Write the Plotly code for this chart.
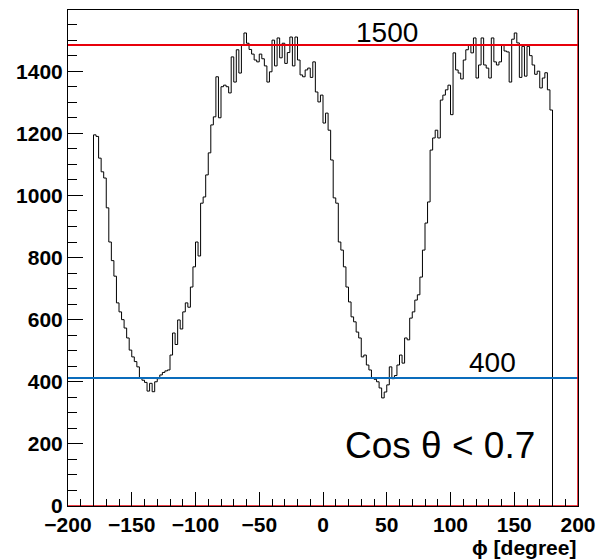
import plotly.graph_objects as go

# Histogram: 2-degree bins from -180 to 180
bin_start = -180
bin_width = 2
counts = [
    1195, 1190, 1120, 1076, 1056, 960, 850, 790, 740, 654,
    625, 600, 573, 541, 502, 480, 465, 448, 412, 405,
    398, 370, 395, 368, 400, 410, 422, 430, 435, 438,
    486, 557, 520, 599, 570, 625, 654, 640, 705, 770,
    850, 805, 975, 995, 1066, 1137, 1227, 1253, 1382, 1250,
    1350, 1355, 1350, 1330, 1446, 1365, 1469, 1394, 1484, 1523,
    1490, 1470, 1455, 1436, 1430, 1455, 1440, 1417, 1365, 1398,
    1500, 1417, 1507, 1443, 1490, 1425, 1460, 1510, 1417, 1510,
    1436, 1388, 1382, 1404, 1410, 1380, 1430, 1333, 1301, 1323,
    1233, 1265, 1210, 1114, 992, 975, 850, 824, 770, 705,
    657, 609, 593, 560, 541, 480, 486, 454, 438, 412,
    408, 400, 380, 348, 367, 390, 448, 410, 420, 454,
    486, 460, 541, 535, 605, 625, 663, 680, 737, 824,
    911, 979, 1146, 1185, 1210, 1185, 1307, 1323, 1340, 1355,
    1260, 1459, 1404, 1394, 1375, 1436, 1469, 1484, 1459, 1507,
    1378, 1420, 1507, 1420, 1410, 1378, 1507, 1430, 1420, 1430,
    1484, 1465, 1462, 1365, 1503, 1523, 1491, 1380, 1480, 1384,
    1480, 1450, 1420, 1390, 1400, 1346, 1378, 1395, 1340, 1275,
]

red_level = 1484
red_label = "1500"
blue_level = 412
blue_label = "400"
cut_label = "Cos θ < 0.7"
x_title = "ϕ [degree]"
x_ticks = [-200, -150, -100, -50, 0, 50, 100, 150, 200]
y_ticks = [0, 200, 400, 600, 800, 1000, 1200, 1400]

edges = [bin_start + i * bin_width for i in range(len(counts) + 1)]
xs = [edges[0]] + edges[:-1] + [edges[-1], edges[-1]]
ys = [0] + counts + [counts[-1], 0]

fig = go.Figure()
fig.add_trace(go.Scatter(x=xs, y=ys, mode="lines", line=dict(color="black", width=1, shape="hv"),
                         hoverinfo="skip", showlegend=False))
fig.add_trace(go.Scatter(x=[-200, 200], y=[red_level, red_level], mode="lines",
                         line=dict(color="#e8000b", width=2), showlegend=False))
fig.add_trace(go.Scatter(x=[-200, 200], y=[blue_level, blue_level], mode="lines",
                         line=dict(color="#0a6cbc", width=2), showlegend=False))
fig.add_trace(go.Scatter(x=[200, 200, -200], y=[1597, 0, 0], mode="lines",
                         line=dict(color="#e8000b", width=1.5), showlegend=False))

font_main = "Liberation Sans, Arial, sans-serif"
fig.add_annotation(x=50, y=1523, xref="x", yref="y", text=red_label, showarrow=False,
                   font=dict(family=font_main, size=28, color="black"))
fig.add_annotation(x=133, y=462, xref="x", yref="y", text=blue_label, showarrow=False,
                   font=dict(family=font_main, size=28, color="black"))
fig.add_annotation(x=92, y=196, xref="x", yref="y", text=cut_label, showarrow=False,
                   font=dict(family=font_main, size=37, color="black"))
fig.add_annotation(x=1.0, y=-0.083, xref="paper", yref="paper", text="<b>" + x_title + "</b>",
                   showarrow=False, xanchor="right", yanchor="middle",
                   font=dict(family=font_main, size=21, color="black"))

fig.update_layout(
    width=602, height=559,
    margin=dict(l=68, r=24, t=10, b=53, autoexpand=False),
    paper_bgcolor="white", plot_bgcolor="white",
    font=dict(family=font_main, color="black"),
    xaxis=dict(range=[-200, 200], tickvals=x_ticks, ticks="inside", ticklen=14, tickcolor="black",
               showgrid=False, zeroline=False, showline=True, linecolor="black", mirror=True,
               automargin=False,
               tickfont=dict(family=font_main, size=21, color="black", weight="bold"),
               minor=dict(dtick=10, ticks="inside", ticklen=7, tickcolor="black")),
    yaxis=dict(range=[0, 1597], tickvals=y_ticks, ticks="inside", ticklen=15, tickcolor="black",
               showgrid=False, zeroline=False, showline=True, linecolor="black", mirror=True,
               automargin=False,
               tickfont=dict(family=font_main, size=21, color="black", weight="bold"),
               minor=dict(dtick=50, ticks="inside", ticklen=9, tickcolor="black")),
)

fig.write_html("out.html")
